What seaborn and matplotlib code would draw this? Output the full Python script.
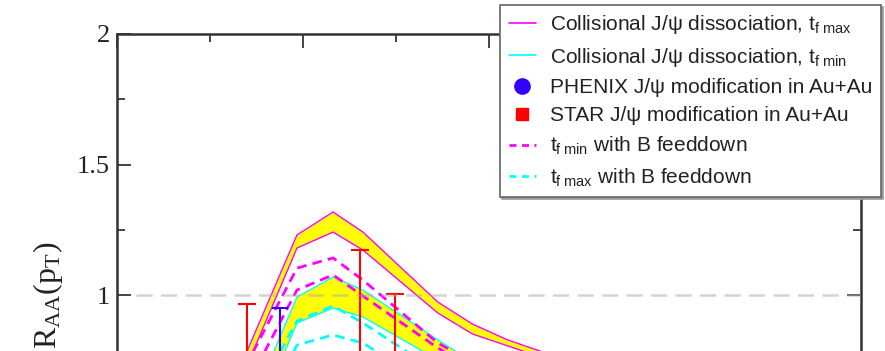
import matplotlib
matplotlib.use("Agg")
import matplotlib.pyplot as plt
from matplotlib.lines import Line2D
from matplotlib.ticker import MultipleLocator, FuncFormatter
import numpy as np
import pandas as pd
import seaborn as sns

# transverse-momentum grid of the model curves (GeV)
pt_model = [0.5, 1.0, 1.935, 2.323, 2.645, 3.45, 3.82, 4.20, 5.0, 6.0, 8.0]

# collisional dissociation, t_f max band (upper / lower edge)
raa_tfmax_hi = [0.30, 0.454, 1.230, 1.318, 1.241, 0.973, 0.889, 0.828, 0.73, 0.64, 0.52]
raa_tfmax_lo = [0.25, 0.395, 1.180, 1.241, 1.172, 0.931, 0.851, 0.805, 0.71, 0.62, 0.50]

# collisional dissociation, t_f min band (upper / lower edge)
raa_tfmin_hi = [0.10, 0.207, 0.992, 1.069, 1.019, 0.828, 0.743, 0.68, 0.58, 0.50, 0.40]
raa_tfmin_lo = [0.05, 0.108, 0.893, 0.950, 0.916, 0.751, 0.674, 0.62, 0.53, 0.45, 0.36]

# with B feeddown
raa_fd_tfmin_a = [0.25, 0.467, 1.103, 1.142, 1.057, 0.816, 0.743, 0.69, 0.60, 0.52, 0.42]
raa_fd_tfmin_b = [0.20, 0.383, 1.019, 1.077, 0.996, 0.797, 0.720, 0.66, 0.57, 0.49, 0.39]
raa_fd_tfmax_a = [0.15, 0.290, 0.900, 0.958, 0.893, 0.705, 0.640, 0.58, 0.50, 0.43, 0.34]
raa_fd_tfmax_b = [0.05, 0.172, 0.808, 0.847, 0.816, 0.636, 0.570, 0.52, 0.45, 0.38, 0.30]

# data points
pt_star = [1.40, 2.61, 2.99]
raa_star = [0.62, 0.72, 0.65]
err_star = [0.345, 0.452, 0.354]

pt_phenix = [1.75]
raa_phenix = [0.60]
err_phenix = [0.35]

legend_labels = [
    r"Collisional J/ψ dissociation, $\mathsf{t_{f\ max}}$",
    r"Collisional J/ψ dissociation, $\mathsf{t_{f\ min}}$",
    "PHENIX J/ψ modification in Au+Au",
    "STAR J/ψ modification in Au+Au",
    r"$\mathsf{t_{f\ min}}$ with B feeddown",
    r"$\mathsf{t_{f\ max}}$ with B feeddown",
]

MAGENTA = "#ff00ff"
CYAN = "#00ffff"
YELLOW = "#ffff00"
RED = "#ff0000"
BLUE = "#3300ff"

sns.set_style("ticks")
plt.rcParams.update({
    "font.family": ["Liberation Sans", "DejaVu Sans"],
    "mathtext.fontset": "custom",
    "mathtext.rm": "Liberation Serif",
    "mathtext.it": "Liberation Serif:italic",
    "mathtext.sf": "Liberation Sans",
})

W, H = 885, 351
fig = plt.figure(figsize=(W / 100, H / 100), dpi=100)
# axes: y from 0 to 2, lower part runs past the bottom edge of the canvas
ax = fig.add_axes([117 / W, (317 - 522) / H, 744 / W, 522 / H])

models = pd.DataFrame({
    "pt": pt_model,
    "tfmax_hi": raa_tfmax_hi, "tfmax_lo": raa_tfmax_lo,
    "tfmin_hi": raa_tfmin_hi, "tfmin_lo": raa_tfmin_lo,
    "fd_min_a": raa_fd_tfmin_a, "fd_min_b": raa_fd_tfmin_b,
    "fd_max_a": raa_fd_tfmax_a, "fd_max_b": raa_fd_tfmax_b,
})

# yellow bands between the edges
ax.fill_between(models["pt"], models["tfmax_lo"], models["tfmax_hi"], color=YELLOW, lw=0, zorder=1)
ax.fill_between(models["pt"], models["tfmin_lo"], models["tfmin_hi"], color=YELLOW, lw=0, zorder=1)

for col in ["tfmax_hi", "tfmax_lo"]:
    sns.lineplot(data=models, x="pt", y=col, ax=ax, color=MAGENTA, lw=1.0,
                 sort=False, estimator=None, zorder=2)
for col in ["tfmin_hi", "tfmin_lo"]:
    sns.lineplot(data=models, x="pt", y=col, ax=ax, color=CYAN, lw=1.0,
                 sort=False, estimator=None, zorder=2)

dash = (0, (3.5, 2.2))
for col in ["fd_min_a", "fd_min_b"]:
    sns.lineplot(data=models, x="pt", y=col, ax=ax, color=MAGENTA, lw=2.0,
                 linestyle=dash, sort=False, estimator=None, zorder=3)
for col in ["fd_max_a", "fd_max_b"]:
    sns.lineplot(data=models, x="pt", y=col, ax=ax, color=CYAN, lw=2.0,
                 linestyle=dash, sort=False, estimator=None, zorder=3)

# measurements
ax.errorbar(pt_star, raa_star, yerr=err_star, fmt="none", ecolor=RED,
            elinewidth=1.5, capsize=6.3, capthick=1.5, zorder=4)
ax.errorbar(pt_phenix, raa_phenix, yerr=err_phenix, fmt="none", ecolor=BLUE,
            elinewidth=1.5, capsize=5.5, capthick=1.5, zorder=4)
sns.scatterplot(x=pt_star, y=raa_star, ax=ax, marker="s", s=90, color=RED,
                edgecolor=RED, zorder=5)
sns.scatterplot(x=pt_phenix, y=raa_phenix, ax=ax, marker="o", s=110, color=BLUE,
                edgecolor=BLUE, zorder=5)

# reference line at unity
ax.plot([0.2, 8.0], [1.0, 1.0], color="#a8a8a8", alpha=0.5, lw=1.8,
        linestyle=(0, (6.5, 3.3)), zorder=6)

ax.set_xlim(0, 8)
ax.set_ylim(0, 2)
ax.xaxis.set_major_locator(MultipleLocator(2))
ax.xaxis.set_minor_locator(MultipleLocator(1))
ax.yaxis.set_major_locator(MultipleLocator(0.5))
ax.yaxis.set_minor_locator(MultipleLocator(0.25))
# only the labels inside the shown window (1 to 2) are written out
ax.yaxis.set_major_formatter(FuncFormatter(lambda v, p: f"{v:g}" if v >= 0.99 else ""))

for s in ax.spines.values():
    s.set_linewidth(1.8)
    s.set_color("#333333")
ax.tick_params(which="both", direction="in", top=True, right=True,
               width=1.4, color="#444444", pad=5, labelbottom=False)
ax.tick_params(which="major", length=10)
ax.tick_params(which="minor", length=5.5)
for lab in ax.get_yticklabels():
    lab.set_family("Liberation Serif")
    lab.set_fontsize(19)
    lab.set_color("#222222")

ax.set_ylabel(r"$\mathrm{R_{AA}(p_T)}$", fontsize=23, labelpad=9, color="#222222")
ax.set_xlabel("")

handles = [
    Line2D([], [], color=MAGENTA, lw=1.2),
    Line2D([], [], color=CYAN, lw=1.2),
    Line2D([], [], color=BLUE, marker="o", ms=11, lw=0),
    Line2D([], [], color=RED, marker="s", ms=9, lw=0),
    Line2D([], [], color=MAGENTA, lw=2.0, linestyle=(0, (2.5, 2.0))),
    Line2D([], [], color=CYAN, lw=2.0, linestyle=(0, (2.5, 2.0))),
]
leg = ax.legend(handles, legend_labels, loc="upper right",
                bbox_to_anchor=(881 / W, 1 - 5 / H), bbox_transform=fig.transFigure,
                borderaxespad=0, fontsize=15, labelspacing=0.45, handlelength=1.3,
                handletextpad=0.7, borderpad=0.4, fancybox=False, framealpha=1,
                shadow={"ox": 1.5, "oy": -1.5, "color": "#999999", "alpha": 1.0})
leg.get_frame().set_edgecolor("#666666")
leg.get_frame().set_linewidth(1.2)
for t in leg.get_texts():
    t.set_color("#222222")
leg.set_zorder(10)

fig.savefig("out.png", dpi=100)
